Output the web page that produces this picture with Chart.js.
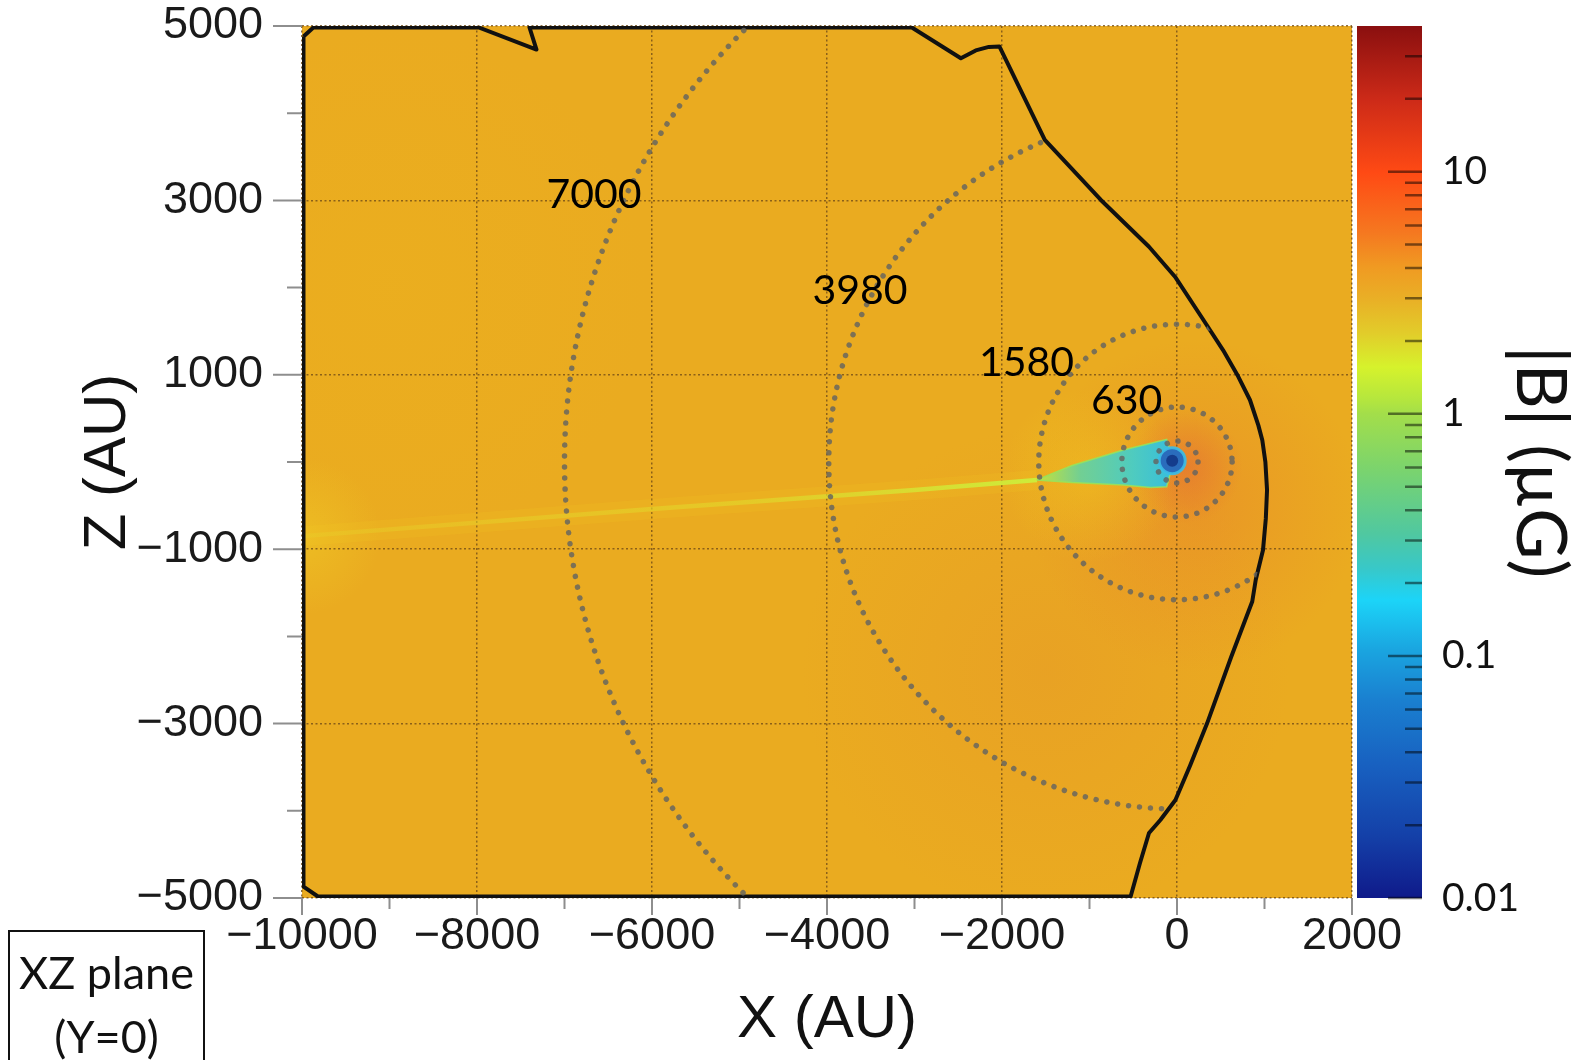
<!DOCTYPE html>
<html>
<head>
<meta charset="utf-8">
<script src="https://cdn.jsdelivr.net/npm/chart.js@4/dist/chart.umd.min.js"></script>
<style>
  html, body { margin: 0; padding: 0; background: #fff; }
  #wrap { position: relative; width: 1585px; height: 1060px; overflow: hidden; }
  #main { position: absolute; left: 0; top: 0; }
  #bar { position: absolute; left: 1357px; top: 0; }
  #planeBox {
    position: absolute; left: 8px; top: 930px; width: 193px; height: 160px;
    border: 2px solid #111; box-sizing: content-box;
    font-family: Lato, "Open Sans", sans-serif; font-size: 45px; color: #111;
    text-align: center; line-height: 64px; padding-top: 8px;
  }
</style>
</head>
<body>
<div id="wrap">
  <canvas id="main" width="1585" height="1060"></canvas>
  <canvas id="bar" width="228" height="1060"></canvas>
  <div id="planeBox">XZ plane<br>(Y=0)</div>
</div>
<script>
// axis ticks (AU)
const xTicks = [-10000, -8000, -6000, -4000, -2000, 0, 2000];
const xMinorTicks = [-9000, -7000, -5000, -3000, -1000, 1000];
const zTicks = [-5000, -3000, -1000, 1000, 3000, 5000];
const zMinorTicks = [-4000, -2000, 0, 2000, 4000];

// black contour (X, Z in AU)
const boundaryX = [-9983, -9870, -7980, -7320, -7400, -3030, -2470, -2300, -2150, -2030,
  -1511, -870, -320, -23, 280, 526, 700, 834, 930, 975, 1010, 1029, 1015, 983, 900, 860,
  620, 343, 150, -18, -190, -320, -423, -530, -9818, -9983, -9983];
const boundaryZ = [4880, 4983, 4983, 4730, 4983, 4983, 4630, 4720, 4760, 4765,
  3693, 3005, 2469, 2125, 1663, 1284, 980, 711, 420, 250, 0, -321, -650, -1009, -1350, -1600,
  -2233, -3000, -3480, -3876, -4106, -4255, -4599, -4983, -4983, -4870, 4880];

// dotted circles around the star and their labels
const circleRadii = [240, 630, 1580, 3980, 7000];
const circleLabels = ['', '630', '1580', '3980', '7000'];
const labelX = [0, -575, -1720, -3623, -6663];
const labelZ = [0, 700, 1135, 1961, 3062];

// low-field tail, feather and star
const tailX = [-9990, -6000, -3000, -1600];
const tailZ = [-850, -540, -320, -206];
const featherX = [-1603, -1200, -614, -300, -118, -40, -118, -300, -614, -1200, -1603];
const featherZ = [-206, -40, 138, 215, 260, 0, -283, -292, -264, -235, -206];
const starX = [-55];
const starZ = [15];

// colour bar |B| (uG)
const cbTicks = [0.01, 0.1, 1, 10];
const cbTickLabels = ['0.01', '0.1', '1', '10'];
const cbMinorTicks = [0.02, 0.03, 0.04, 0.05, 0.06, 0.07, 0.08, 0.09,
  0.2, 0.3, 0.4, 0.5, 0.6, 0.7, 0.8, 0.9, 2, 3, 4, 5, 6, 7, 8, 9, 20, 30];
const cbStopValues = [0.01, 0.018, 0.035, 0.066, 0.106, 0.17, 0.23, 0.32, 0.6, 1.0, 1.14, 1.56, 2.16, 2.96, 4.05, 5.6, 9.9, 20, 40];
const cbStopColors = ['#0f1a8a', '#1440a8', '#1860c0', '#1a80d0', '#1aa5e0', '#1cd4f8', '#38c8c8', '#50c8a0', '#7cd46c', '#a3de4a',
  '#b4e63e', '#d6f22c', '#e2cc2a', '#e9b026', '#f09a22', '#f57820', '#ff4a14', '#cc2a18', '#8a0f0f'];

const tickFont = '"Liberation Sans", Arial, sans-serif';
const textFont = 'Lato, "Open Sans", sans-serif';
const minus = v => (v < 0 ? '\u2212' + Math.abs(v) : String(v));

function pts(xs, zs) {
  return xs.map((x, i) => ({ x: x, y: zs[i] }));
}

function hGradient(c, stops) {
  const chart = c.chart;
  if (!chart.chartArea) return stops[stops.length - 1][1];
  const xs = chart.scales.x;
  const x0 = xs.getPixelForValue(stops[0][0]);
  const x1 = xs.getPixelForValue(stops[stops.length - 1][0]);
  const g = chart.ctx.createLinearGradient(x0, 0, x1, 0);
  stops.forEach(s => g.addColorStop((xs.getPixelForValue(s[0]) - x0) / (x1 - x0), s[1]));
  return g;
}

// background field shading of the map
const fieldPlugin = {
  id: 'field',
  beforeDraw(chart) {
    const { ctx, chartArea: a, scales: { x, y } } = chart;
    ctx.save();
    ctx.beginPath();
    ctx.rect(a.left, a.top, a.width, a.height);
    ctx.clip();
    ctx.fillStyle = '#eaab20';
    ctx.fillRect(a.left, a.top, a.width, a.height);
    const glows = [
      [-1500, -2400, 2800, 'rgba(228,140,45,0.3)'],
      [200, -500, 1900, 'rgba(232,125,45,0.45)'],
      [100, -50, 650, 'rgba(228,100,55,0.5)'],
      [-1000, -150, 1000, 'rgba(240,200,30,0.5)'],
      [-10000, -850, 900, 'rgba(238,196,36,0.7)'],
      [-9000, 2000, 3000, 'rgba(236,180,28,0.3)']
    ];
    glows.forEach(g => {
      const cx = x.getPixelForValue(g[0]);
      const cy = y.getPixelForValue(g[1]);
      const r = Math.abs(x.getPixelForValue(g[0] + g[2]) - cx);
      const grad = ctx.createRadialGradient(cx, cy, 0, cx, cy, r);
      grad.addColorStop(0, g[3]);
      grad.addColorStop(1, g[3].replace(/[\d.]+\)$/, '0)'));
      ctx.fillStyle = grad;
      ctx.fillRect(a.left, a.top, a.width, a.height);
    });
    ctx.restore();
  }
};

// dotted circles clipped to the contour, and their labels
const circlePlugin = {
  id: 'circles',
  afterDatasetsDraw(chart) {
    const { ctx, chartArea: a, scales: { x, y } } = chart;
    const outline = chart.getDatasetMeta(0).data;
    ctx.save();
    ctx.beginPath();
    ctx.rect(a.left, a.top, a.width, a.height);
    ctx.clip();
    ctx.beginPath();
    outline.forEach((p, i) => (i ? ctx.lineTo(p.x, p.y) : ctx.moveTo(p.x, p.y)));
    ctx.closePath();
    ctx.clip();
    const cx = x.getPixelForValue(0);
    const cy = y.getPixelForValue(0);
    ctx.setLineDash([0.01, 11]);
    ctx.lineCap = 'round';
    ctx.lineWidth = 5.5;
    ctx.strokeStyle = 'rgba(100,100,96,0.82)';
    circleRadii.forEach(r => {
      const rx = x.getPixelForValue(r) - cx;
      const ry = cy - y.getPixelForValue(r);
      ctx.beginPath();
      ctx.ellipse(cx, cy, rx, ry, 0, 0, Math.PI * 2);
      ctx.stroke();
    });
    ctx.restore();

    ctx.save();
    ctx.font = '41px ' + textFont;
    ctx.fillStyle = '#000';
    ctx.textAlign = 'center';
    ctx.textBaseline = 'middle';
    circleLabels.forEach((t, i) => {
      if (t) ctx.fillText(t, x.getPixelForValue(labelX[i]), y.getPixelForValue(labelZ[i]));
    });
    ctx.restore();
  }
};

// outside tick marks, long for labelled values, short in between
const tickPlugin = {
  id: 'tickMarks',
  afterDraw(chart) {
    const { ctx, chartArea: a, scales: { x, y } } = chart;
    ctx.save();
    ctx.strokeStyle = '#8e8e8e';
    ctx.lineWidth = 2;
    ctx.beginPath();
    xTicks.forEach(v => { const p = x.getPixelForValue(v); ctx.moveTo(p, a.bottom); ctx.lineTo(p, a.bottom + 17); });
    xMinorTicks.forEach(v => { const p = x.getPixelForValue(v); ctx.moveTo(p, a.bottom); ctx.lineTo(p, a.bottom + 11); });
    zTicks.forEach(v => { const p = y.getPixelForValue(v); ctx.moveTo(a.left, p); ctx.lineTo(a.left - 29, p); });
    zMinorTicks.forEach(v => { const p = y.getPixelForValue(v); ctx.moveTo(a.left, p); ctx.lineTo(a.left - 15, p); });
    ctx.stroke();
    ctx.restore();
  }
};

const gridColor = 'rgba(115,78,22,0.8)';

new Chart(document.getElementById('main'), {
  type: 'scatter',
  data: {
    datasets: [
      {
        label: 'contour',
        data: pts(boundaryX, boundaryZ),
        showLine: true,
        borderColor: '#111',
        borderWidth: 4,
        borderJoinStyle: 'round',
        pointRadius: 0,
        fill: false
      },
      {
        label: 'star core',
        data: pts(starX, starZ),
        pointRadius: 6,
        backgroundColor: '#143c8c',
        borderWidth: 0
      },
      {
        label: 'star',
        data: pts(starX, starZ),
        pointRadius: 13,
        backgroundColor: '#2a6cbc',
        borderColor: 'rgba(60,190,230,0.9)',
        borderWidth: 3
      },
      {
        label: 'feather',
        data: pts(featherX, featherZ),
        showLine: true,
        fill: 'shape',
        pointRadius: 0,
        borderWidth: 1.5,
        borderColor: 'rgba(150,228,90,0.85)',
        backgroundColor: c => hGradient(c, [[-1603, 'rgba(195,230,60,0.9)'], [-1100, 'rgba(100,210,160,0.9)'], [-500, 'rgba(70,205,200,0.95)'], [-40, 'rgba(55,190,220,1)']])
      },
      {
        label: 'tail',
        data: pts(tailX, tailZ),
        showLine: true,
        pointRadius: 0,
        borderWidth: 4.5,
        borderColor: c => hGradient(c, [[-9990, 'rgba(232,205,40,0.4)'], [-5000, 'rgba(226,214,42,0.65)'], [-1600, 'rgba(205,236,58,1)']])
      },
      {
        label: 'tail glow',
        data: pts(tailX, tailZ),
        showLine: true,
        pointRadius: 0,
        borderWidth: 20,
        borderColor: 'rgba(240,205,40,0.16)'
      }
    ]
  },
  options: {
    responsive: false,
    animation: false,
    devicePixelRatio: 1,
    layout: { padding: { top: 26, right: 233, bottom: 0, left: 0 } },
    plugins: { legend: { display: false }, tooltip: { enabled: false } },
    scales: {
      x: {
        type: 'linear',
        min: -10000,
        max: 2000,
        afterBuildTicks: s => { s.ticks = xTicks.map(v => ({ value: v })); },
        afterFit: s => { s.height = 162; },
        grid: { color: gridColor, lineWidth: 1.5, drawTicks: true, tickLength: 12, tickColor: 'rgba(0,0,0,0)' },
        border: { display: false, dash: [2, 2.5] },
        ticks: { padding: 0, color: '#1a1a1a', maxRotation: 0, autoSkip: false,
          font: { family: tickFont, size: 45 }, callback: v => minus(v) },
        title: { display: true, text: 'X (AU)', color: '#111',
          font: { family: tickFont, size: 60 }, padding: { top: 0, bottom: 4 } }
      },
      y: {
        type: 'linear',
        min: -5000,
        max: 5000,
        afterBuildTicks: s => { s.ticks = zTicks.map(v => ({ value: v })); },
        afterFit: s => { s.width = 302; },
        grid: { color: gridColor, lineWidth: 1.5, drawTicks: true, tickLength: 39, tickColor: 'rgba(0,0,0,0)' },
        border: { display: false, dash: [2, 2.5] },
        ticks: { padding: 0, color: '#1a1a1a', autoSkip: false,
          font: { family: tickFont, size: 45, lineHeight: 1.1 }, callback: v => minus(v) },
        title: { display: true, text: 'Z (AU)', color: '#111',
          font: { family: tickFont, size: 60 }, padding: { top: 72, bottom: 0 } }
      }
    }
  },
  plugins: [fieldPlugin, circlePlugin, tickPlugin]
});

// colour bar
const colorbarPlugin = {
  id: 'colorbar',
  beforeDraw(chart) {
    const { ctx, chartArea: a, scales: { y } } = chart;
    const g = ctx.createLinearGradient(0, a.bottom, 0, a.top);
    cbStopValues.forEach((v, i) => {
      g.addColorStop((a.bottom - y.getPixelForValue(v)) / (a.bottom - a.top), cbStopColors[i]);
    });
    ctx.save();
    ctx.fillStyle = g;
    ctx.fillRect(a.left, a.top, a.width, a.height);
    ctx.restore();
  },
  afterDraw(chart) {
    const { ctx, chartArea: a, scales: { y } } = chart;
    ctx.save();
    ctx.strokeStyle = 'rgba(0,0,0,0.5)';
    ctx.lineWidth = 2.5;
    ctx.beginPath();
    cbTicks.forEach(v => { const p = y.getPixelForValue(v); ctx.moveTo(a.right, p); ctx.lineTo(a.right - 34, p); });
    cbMinorTicks.forEach(v => { const p = y.getPixelForValue(v); ctx.moveTo(a.right, p); ctx.lineTo(a.right - 17, p); });
    ctx.stroke();
    ctx.restore();
  }
};

new Chart(document.getElementById('bar'), {
  type: 'scatter',
  data: { datasets: [{ data: [] }] },
  options: {
    responsive: false,
    animation: false,
    devicePixelRatio: 1,
    layout: { padding: { top: 26, bottom: 162, left: 0, right: 0 } },
    plugins: { legend: { display: false }, tooltip: { enabled: false } },
    scales: {
      x: { type: 'linear', display: false, min: 0, max: 1 },
      y: {
        type: 'logarithmic',
        position: 'right',
        min: 0.01,
        max: 40,
        afterBuildTicks: s => { s.ticks = cbTicks.map(v => ({ value: v })); },
        afterFit: s => { s.width = 163; },
        grid: { display: true, drawOnChartArea: false, drawTicks: true, tickLength: 20, tickColor: 'rgba(0,0,0,0)' },
        border: { display: false },
        ticks: { padding: 0, color: '#111', autoSkip: false,
          font: { family: textFont, size: 39, lineHeight: 1.1 }, callback: (v, i) => cbTickLabels[i] },
        title: { display: true, text: '|B| (\u00b5G)', color: '#111',
          font: { family: textFont, size: 70 }, padding: { top: 3, bottom: 0 } }
      }
    }
  },
  plugins: [colorbarPlugin]
});
</script>
</body>
</html>
